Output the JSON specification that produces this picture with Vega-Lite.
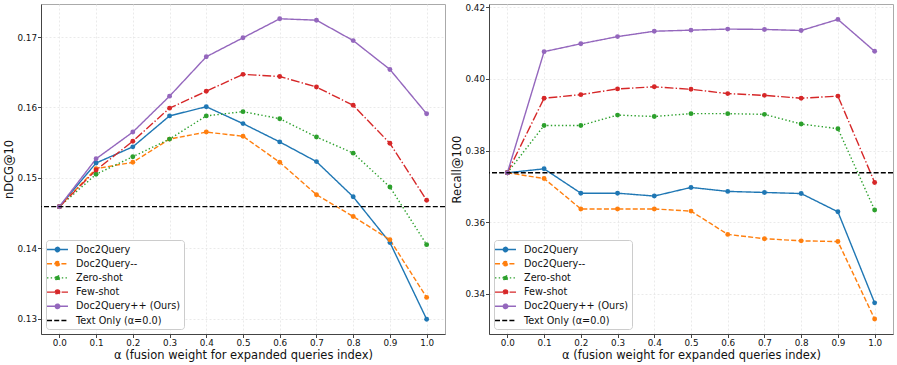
{
  "$schema": "https://vega.github.io/schema/vega-lite/v6.json",
  "padding": {"left": 3, "right": 4, "top": 2, "bottom": 0},
  "spacing": 44,
  "bounds": "flush",
  "background": "white",
  "config": {
    "font": "DejaVu Sans",
    "view": {"stroke": "#aaaaaa", "strokeWidth": 1},
    "axis": {
      "labelFont": "DejaVu Sans", "labelFontSize": 8.8, "labelColor": "#111111",
      "titleFont": "DejaVu Sans", "titleFontSize": 11.5, "titleFontWeight": "normal", "titleColor": "#111111",
      "domainColor": "#444444", "tickColor": "#444444", "tickSize": 3.5,
      "gridColor": "#e4e4e4", "gridDash": [2, 2], "gridWidth": 0.8
    },
    "axisX": {"labelPadding": 1, "titlePadding": 2},
    "axisY": {"labelPadding": 1, "titlePadding": 2},
    "legend": {
      "labelFont": "DejaVu Sans", "labelFontSize": 9.7, "labelColor": "#111111",
      "fillColor": "white", "strokeColor": "#cccccc", "cornerRadius": 3, "padding": 3.5,
      "orient": "bottom-left", "offset": 5, "rowPadding": 2.2
    }
  },
  "resolve": {"legend": {"color": "independent"}},
  "datasets": {
    "ndcg": [
      {"series": "Doc2Query", "alpha": 0.0, "value": 0.1459},
      {"series": "Doc2Query", "alpha": 0.1, "value": 0.1521},
      {"series": "Doc2Query", "alpha": 0.2, "value": 0.1544},
      {"series": "Doc2Query", "alpha": 0.3, "value": 0.1588},
      {"series": "Doc2Query", "alpha": 0.4, "value": 0.1601},
      {"series": "Doc2Query", "alpha": 0.5, "value": 0.1577},
      {"series": "Doc2Query", "alpha": 0.6, "value": 0.1551},
      {"series": "Doc2Query", "alpha": 0.7, "value": 0.1523},
      {"series": "Doc2Query", "alpha": 0.8, "value": 0.1473},
      {"series": "Doc2Query", "alpha": 0.9, "value": 0.1408},
      {"series": "Doc2Query", "alpha": 1.0, "value": 0.1299},
      {"series": "Doc2Query--", "alpha": 0.0, "value": 0.1459},
      {"series": "Doc2Query--", "alpha": 0.1, "value": 0.1513},
      {"series": "Doc2Query--", "alpha": 0.2, "value": 0.1522},
      {"series": "Doc2Query--", "alpha": 0.3, "value": 0.1555},
      {"series": "Doc2Query--", "alpha": 0.4, "value": 0.1565},
      {"series": "Doc2Query--", "alpha": 0.5, "value": 0.1559},
      {"series": "Doc2Query--", "alpha": 0.6, "value": 0.1522},
      {"series": "Doc2Query--", "alpha": 0.7, "value": 0.1476},
      {"series": "Doc2Query--", "alpha": 0.8, "value": 0.1445},
      {"series": "Doc2Query--", "alpha": 0.9, "value": 0.1412},
      {"series": "Doc2Query--", "alpha": 1.0, "value": 0.1330},
      {"series": "Zero-shot", "alpha": 0.0, "value": 0.1459},
      {"series": "Zero-shot", "alpha": 0.1, "value": 0.1505},
      {"series": "Zero-shot", "alpha": 0.2, "value": 0.1530},
      {"series": "Zero-shot", "alpha": 0.3, "value": 0.1555},
      {"series": "Zero-shot", "alpha": 0.4, "value": 0.1588},
      {"series": "Zero-shot", "alpha": 0.5, "value": 0.1594},
      {"series": "Zero-shot", "alpha": 0.6, "value": 0.1584},
      {"series": "Zero-shot", "alpha": 0.7, "value": 0.1558},
      {"series": "Zero-shot", "alpha": 0.8, "value": 0.1535},
      {"series": "Zero-shot", "alpha": 0.9, "value": 0.1487},
      {"series": "Zero-shot", "alpha": 1.0, "value": 0.1405},
      {"series": "Few-shot", "alpha": 0.0, "value": 0.1459},
      {"series": "Few-shot", "alpha": 0.1, "value": 0.1511},
      {"series": "Few-shot", "alpha": 0.2, "value": 0.1552},
      {"series": "Few-shot", "alpha": 0.3, "value": 0.1599},
      {"series": "Few-shot", "alpha": 0.4, "value": 0.1623},
      {"series": "Few-shot", "alpha": 0.5, "value": 0.1647},
      {"series": "Few-shot", "alpha": 0.6, "value": 0.1644},
      {"series": "Few-shot", "alpha": 0.7, "value": 0.1629},
      {"series": "Few-shot", "alpha": 0.8, "value": 0.1603},
      {"series": "Few-shot", "alpha": 0.9, "value": 0.1549},
      {"series": "Few-shot", "alpha": 1.0, "value": 0.1468},
      {"series": "Doc2Query++ (Ours)", "alpha": 0.0, "value": 0.1459},
      {"series": "Doc2Query++ (Ours)", "alpha": 0.1, "value": 0.1527},
      {"series": "Doc2Query++ (Ours)", "alpha": 0.2, "value": 0.1565},
      {"series": "Doc2Query++ (Ours)", "alpha": 0.3, "value": 0.1616},
      {"series": "Doc2Query++ (Ours)", "alpha": 0.4, "value": 0.1672},
      {"series": "Doc2Query++ (Ours)", "alpha": 0.5, "value": 0.1699},
      {"series": "Doc2Query++ (Ours)", "alpha": 0.6, "value": 0.1726},
      {"series": "Doc2Query++ (Ours)", "alpha": 0.7, "value": 0.1724},
      {"series": "Doc2Query++ (Ours)", "alpha": 0.8, "value": 0.1695},
      {"series": "Doc2Query++ (Ours)", "alpha": 0.9, "value": 0.1654},
      {"series": "Doc2Query++ (Ours)", "alpha": 1.0, "value": 0.1591},
      {"series": "Text Only (α=0.0)", "alpha": null, "value": 0.1459}
    ],
    "recall": [
      {"series": "Doc2Query", "alpha": 0.0, "value": 0.3738},
      {"series": "Doc2Query", "alpha": 0.1, "value": 0.3749},
      {"series": "Doc2Query", "alpha": 0.2, "value": 0.3681},
      {"series": "Doc2Query", "alpha": 0.3, "value": 0.3681},
      {"series": "Doc2Query", "alpha": 0.4, "value": 0.3673},
      {"series": "Doc2Query", "alpha": 0.5, "value": 0.3697},
      {"series": "Doc2Query", "alpha": 0.6, "value": 0.3686},
      {"series": "Doc2Query", "alpha": 0.7, "value": 0.3683},
      {"series": "Doc2Query", "alpha": 0.8, "value": 0.3680},
      {"series": "Doc2Query", "alpha": 0.9, "value": 0.3629},
      {"series": "Doc2Query", "alpha": 1.0, "value": 0.3375},
      {"series": "Doc2Query--", "alpha": 0.0, "value": 0.3738},
      {"series": "Doc2Query--", "alpha": 0.1, "value": 0.3722},
      {"series": "Doc2Query--", "alpha": 0.2, "value": 0.3637},
      {"series": "Doc2Query--", "alpha": 0.3, "value": 0.3637},
      {"series": "Doc2Query--", "alpha": 0.4, "value": 0.3637},
      {"series": "Doc2Query--", "alpha": 0.5, "value": 0.3631},
      {"series": "Doc2Query--", "alpha": 0.6, "value": 0.3566},
      {"series": "Doc2Query--", "alpha": 0.7, "value": 0.3554},
      {"series": "Doc2Query--", "alpha": 0.8, "value": 0.3548},
      {"series": "Doc2Query--", "alpha": 0.9, "value": 0.3546},
      {"series": "Doc2Query--", "alpha": 1.0, "value": 0.3330},
      {"series": "Zero-shot", "alpha": 0.0, "value": 0.3738},
      {"series": "Zero-shot", "alpha": 0.1, "value": 0.3870},
      {"series": "Zero-shot", "alpha": 0.2, "value": 0.3870},
      {"series": "Zero-shot", "alpha": 0.3, "value": 0.3899},
      {"series": "Zero-shot", "alpha": 0.4, "value": 0.3895},
      {"series": "Zero-shot", "alpha": 0.5, "value": 0.3903},
      {"series": "Zero-shot", "alpha": 0.6, "value": 0.3903},
      {"series": "Zero-shot", "alpha": 0.7, "value": 0.3901},
      {"series": "Zero-shot", "alpha": 0.8, "value": 0.3874},
      {"series": "Zero-shot", "alpha": 0.9, "value": 0.3861},
      {"series": "Zero-shot", "alpha": 1.0, "value": 0.3634},
      {"series": "Few-shot", "alpha": 0.0, "value": 0.3738},
      {"series": "Few-shot", "alpha": 0.1, "value": 0.3946},
      {"series": "Few-shot", "alpha": 0.2, "value": 0.3956},
      {"series": "Few-shot", "alpha": 0.3, "value": 0.3972},
      {"series": "Few-shot", "alpha": 0.4, "value": 0.3978},
      {"series": "Few-shot", "alpha": 0.5, "value": 0.3971},
      {"series": "Few-shot", "alpha": 0.6, "value": 0.3959},
      {"series": "Few-shot", "alpha": 0.7, "value": 0.3954},
      {"series": "Few-shot", "alpha": 0.8, "value": 0.3946},
      {"series": "Few-shot", "alpha": 0.9, "value": 0.3952},
      {"series": "Few-shot", "alpha": 1.0, "value": 0.3711},
      {"series": "Doc2Query++ (Ours)", "alpha": 0.0, "value": 0.3738},
      {"series": "Doc2Query++ (Ours)", "alpha": 0.1, "value": 0.4076},
      {"series": "Doc2Query++ (Ours)", "alpha": 0.2, "value": 0.4098},
      {"series": "Doc2Query++ (Ours)", "alpha": 0.3, "value": 0.4118},
      {"series": "Doc2Query++ (Ours)", "alpha": 0.4, "value": 0.4133},
      {"series": "Doc2Query++ (Ours)", "alpha": 0.5, "value": 0.4136},
      {"series": "Doc2Query++ (Ours)", "alpha": 0.6, "value": 0.4139},
      {"series": "Doc2Query++ (Ours)", "alpha": 0.7, "value": 0.4138},
      {"series": "Doc2Query++ (Ours)", "alpha": 0.8, "value": 0.4135},
      {"series": "Doc2Query++ (Ours)", "alpha": 0.9, "value": 0.4166},
      {"series": "Doc2Query++ (Ours)", "alpha": 1.0, "value": 0.4077},
      {"series": "Text Only (α=0.0)", "alpha": null, "value": 0.3738}
    ]
  },
  "hconcat": [
    {
      "width": 404,
      "height": 330,
      "data": {"name": "ndcg"},
      "encoding": {
        "y": {"field": "value", "type": "quantitative",
          "scale": {"domain": [0.1278, 0.1747], "nice": false, "zero": false},
          "axis": {"title": "nDCG@10", "values": [0.13, 0.14, 0.15, 0.16, 0.17], "format": ".2f"}}
      },
      "layer": [
        {
          "transform": [{"filter": "datum.series != 'Text Only (α=0.0)'"}],
          "mark": {"type": "line", "strokeWidth": 1.4},
          "encoding": {
            "x": {"field": "alpha", "type": "quantitative",
              "scale": {"domain": [-0.05, 1.05], "nice": false, "zero": false},
              "axis": {"title": "α (fusion weight for expanded queries index)", "values": [0, 0.1, 0.2, 0.3, 0.4, 0.5, 0.6, 0.7, 0.8, 0.9, 1.0], "format": ".1f"}},
            "color": {"field": "series", "type": "nominal",
              "scale": {"domain": ["Doc2Query", "Doc2Query--", "Zero-shot", "Few-shot", "Doc2Query++ (Ours)", "Text Only (α=0.0)"],
                "range": ["#1f77b4", "#ff7f0e", "#2ca02c", "#d62728", "#9467bd", "#000000"]},
              "legend": {"title": null, "symbolSize": 110, "symbolOffset": 2, "labelOffset": 12.5,
                "labelFont": "DejaVu Sans", "labelFontSize": 9.7, "labelLimit": 300,
                "encode": {
                  "labels": {"update": {"fontSize": {"value": 9.7}, "font": {"value": "DejaVu Sans"}}},
                  "symbols": {"update": {
                  "shape": {"signal": "datum.value == 'Text Only (α=0.0)' ? 'M-2,0L2,0' : 'M-2,0L2,0M-0.42,0A0.42,0.42,0,1,1,0.42,0A0.42,0.42,0,1,1,-0.42,0Z'"},
                  "fill": {"signal": "['#1f77b4','#ff7f0e','#2ca02c','#d62728','#9467bd','transparent'][indexof(['Doc2Query','Doc2Query--','Zero-shot','Few-shot','Doc2Query++ (Ours)','Text Only (α=0.0)'], datum.value)]"},
                  "stroke": {"signal": "['#1f77b4','#ff7f0e','#2ca02c','#d62728','#9467bd','#000000'][indexof(['Doc2Query','Doc2Query--','Zero-shot','Few-shot','Doc2Query++ (Ours)','Text Only (α=0.0)'], datum.value)]"},
                  "strokeDash": {"signal": "[[1,0],[5,2.2],[1.4,2.3],[8.8,2.2,1.4,2.2],[1,0],[5,2.2]][indexof(['Doc2Query','Doc2Query--','Zero-shot','Few-shot','Doc2Query++ (Ours)','Text Only (α=0.0)'], datum.value)]"},
                  "strokeWidth": {"value": 1.4},
                  "opacity": {"value": 1}
                }}}}},
            "strokeDash": {"field": "series", "type": "nominal", "legend": null,
              "scale": {"domain": ["Doc2Query", "Doc2Query--", "Zero-shot", "Few-shot", "Doc2Query++ (Ours)", "Text Only (α=0.0)"],
                "range": [[1, 0], [5, 2.2], [1.4, 2.3], [8.8, 2.2, 1.4, 2.2], [1, 0], [5, 2.2]]}}
          }
        },
        {
          "transform": [{"filter": "datum.series != 'Text Only (α=0.0)'"}],
          "mark": {"type": "point", "filled": true, "size": 24, "opacity": 1},
          "encoding": {
            "x": {"field": "alpha", "type": "quantitative"},
            "color": {"field": "series", "type": "nominal", "legend": null}
          }
        },
        {
          "transform": [{"filter": "datum.series == 'Text Only (α=0.0)'"}],
          "mark": {"type": "rule", "color": "#000000", "strokeDash": [5, 2.2], "strokeWidth": 1.4},
          "encoding": {}
        }
      ]
    },
    {
      "width": 404,
      "height": 330,
      "data": {"name": "recall"},
      "encoding": {
        "y": {"field": "value", "type": "quantitative",
          "scale": {"domain": [0.3288, 0.4209], "nice": false, "zero": false},
          "axis": {"title": "Recall@100", "values": [0.34, 0.36, 0.38, 0.40, 0.42], "format": ".2f"}}
      },
      "layer": [
        {
          "transform": [{"filter": "datum.series != 'Text Only (α=0.0)'"}],
          "mark": {"type": "line", "strokeWidth": 1.4},
          "encoding": {
            "x": {"field": "alpha", "type": "quantitative",
              "scale": {"domain": [-0.05, 1.05], "nice": false, "zero": false},
              "axis": {"title": "α (fusion weight for expanded queries index)", "values": [0, 0.1, 0.2, 0.3, 0.4, 0.5, 0.6, 0.7, 0.8, 0.9, 1.0], "format": ".1f"}},
            "color": {"field": "series", "type": "nominal",
              "scale": {"domain": ["Doc2Query", "Doc2Query--", "Zero-shot", "Few-shot", "Doc2Query++ (Ours)", "Text Only (α=0.0)"],
                "range": ["#1f77b4", "#ff7f0e", "#2ca02c", "#d62728", "#9467bd", "#000000"]},
              "legend": {"title": null, "symbolSize": 110, "symbolOffset": 2, "labelOffset": 12.5,
                "labelFont": "DejaVu Sans", "labelFontSize": 9.7, "labelLimit": 300,
                "encode": {
                  "labels": {"update": {"fontSize": {"value": 9.7}, "font": {"value": "DejaVu Sans"}}},
                  "symbols": {"update": {
                  "shape": {"signal": "datum.value == 'Text Only (α=0.0)' ? 'M-2,0L2,0' : 'M-2,0L2,0M-0.42,0A0.42,0.42,0,1,1,0.42,0A0.42,0.42,0,1,1,-0.42,0Z'"},
                  "fill": {"signal": "['#1f77b4','#ff7f0e','#2ca02c','#d62728','#9467bd','transparent'][indexof(['Doc2Query','Doc2Query--','Zero-shot','Few-shot','Doc2Query++ (Ours)','Text Only (α=0.0)'], datum.value)]"},
                  "stroke": {"signal": "['#1f77b4','#ff7f0e','#2ca02c','#d62728','#9467bd','#000000'][indexof(['Doc2Query','Doc2Query--','Zero-shot','Few-shot','Doc2Query++ (Ours)','Text Only (α=0.0)'], datum.value)]"},
                  "strokeDash": {"signal": "[[1,0],[5,2.2],[1.4,2.3],[8.8,2.2,1.4,2.2],[1,0],[5,2.2]][indexof(['Doc2Query','Doc2Query--','Zero-shot','Few-shot','Doc2Query++ (Ours)','Text Only (α=0.0)'], datum.value)]"},
                  "strokeWidth": {"value": 1.4},
                  "opacity": {"value": 1}
                }}}}},
            "strokeDash": {"field": "series", "type": "nominal", "legend": null,
              "scale": {"domain": ["Doc2Query", "Doc2Query--", "Zero-shot", "Few-shot", "Doc2Query++ (Ours)", "Text Only (α=0.0)"],
                "range": [[1, 0], [5, 2.2], [1.4, 2.3], [8.8, 2.2, 1.4, 2.2], [1, 0], [5, 2.2]]}}
          }
        },
        {
          "transform": [{"filter": "datum.series != 'Text Only (α=0.0)'"}],
          "mark": {"type": "point", "filled": true, "size": 24, "opacity": 1},
          "encoding": {
            "x": {"field": "alpha", "type": "quantitative"},
            "color": {"field": "series", "type": "nominal", "legend": null}
          }
        },
        {
          "transform": [{"filter": "datum.series == 'Text Only (α=0.0)'"}],
          "mark": {"type": "rule", "color": "#000000", "strokeDash": [5, 2.2], "strokeWidth": 1.4},
          "encoding": {}
        }
      ]
    }
  ]
}
